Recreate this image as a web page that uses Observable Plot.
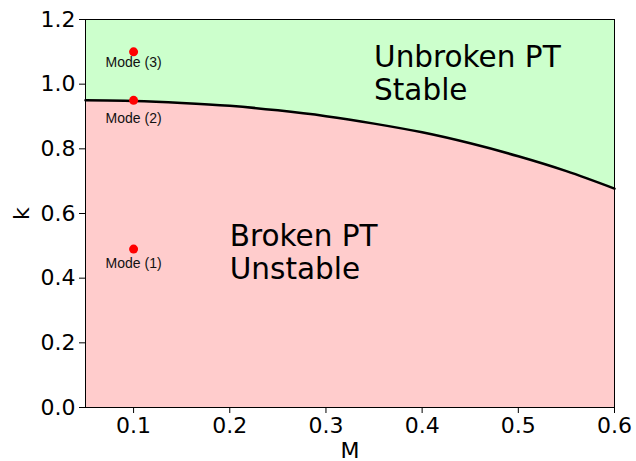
<!DOCTYPE html>
<html>
<head>
<meta charset="utf-8">
<script src="https://cdn.jsdelivr.net/npm/d3@7"></script>
<script src="https://cdn.jsdelivr.net/npm/@observablehq/plot@0.6"></script>
<style>
  html, body { margin: 0; padding: 0; background: #fff; }
  svg { display: block; }
</style>
</head>
<body>
<div id="chart"></div>
<script>
// Boundary curve k(M)
const boundaryM = [0.05, 0.10, 0.15, 0.20, 0.25, 0.30, 0.35, 0.40, 0.45, 0.50, 0.55, 0.60];
const boundaryK = [0.950, 0.948, 0.942, 0.933, 0.919, 0.901, 0.878, 0.851, 0.817, 0.777, 0.731, 0.677];

// Modes
const modeNames = ["Mode (1)", "Mode (2)", "Mode (3)"];
const modeM = [0.1, 0.1, 0.1];
const modeK = [0.49, 0.95, 1.10];
const modeLabelK = [0.445, 0.893, 1.067];

// Region labels
const regionLabels = ["Broken PT\nUnstable", "Unbroken PT\nStable"];
const regionM = [0.2, 0.35];
const regionK = [0.572, 1.125];

const xTicks = [0.1, 0.2, 0.3, 0.4, 0.5, 0.6];
const yTicks = [0.0, 0.2, 0.4, 0.6, 0.8, 1.0, 1.2];

const boundary = boundaryM.map((m, i) => ({M: m, k: boundaryK[i]}));
const modes = modeNames.map((n, i) => ({name: n, M: modeM[i], k: modeK[i], lk: modeLabelK[i]}));
const regions = regionLabels.map((t, i) => ({text: t, M: regionM[i], k: regionK[i]}));

const chart = Plot.plot({
  width: 636,
  height: 461,
  marginLeft: 85,
  marginRight: 22,
  marginTop: 19,
  marginBottom: 54,
  style: {fontFamily: "DejaVu Sans", fontSize: "22px", color: "#000", background: "#fff"},
  x: {domain: [0.05, 0.6]},
  y: {domain: [0, 1.2]},
  marks: [
    Plot.areaY(boundary, {x: "M", y1: "k", y2: 1.2, fill: "#ccffcc", curve: "monotone-x"}),
    Plot.areaY(boundary, {x: "M", y1: 0, y2: "k", fill: "#ffcccc", curve: "monotone-x"}),
    Plot.line(boundary, {x: "M", y: "k", stroke: "#000", strokeWidth: 2.5, curve: "monotone-x"}),
    Plot.dot(modes, {x: "M", y: "k", r: 4.5, fill: "#ff0000", stroke: "none"}),
    Plot.text(modes, {x: "M", y: "lk", text: "name", fontSize: 14, fontFamily: "Liberation Sans", fill: "#111", textAnchor: "middle"}),
    Plot.text(regions, {x: "M", y: "k", text: "text", fontSize: 29.5, fill: "#000", textAnchor: "start", lineAnchor: "top", lineHeight: 1.12}),
    Plot.frame({stroke: "#000", strokeWidth: 1}),
    Plot.axisX({ticks: xTicks, tickFormat: d3.format(".1f"), tickSize: 6, tickPadding: 4, fontSize: 22,
      label: "M", labelAnchor: "center", labelArrow: "none", labelOffset: 50}),
    Plot.axisY({ticks: yTicks, tickFormat: d3.format(".1f"), tickSize: 6, tickPadding: 4, fontSize: 22,
      label: "k", labelAnchor: "center", labelArrow: "none", labelOffset: 72})
  ]
});
document.getElementById("chart").appendChild(chart);
</script>
</body>
</html>
